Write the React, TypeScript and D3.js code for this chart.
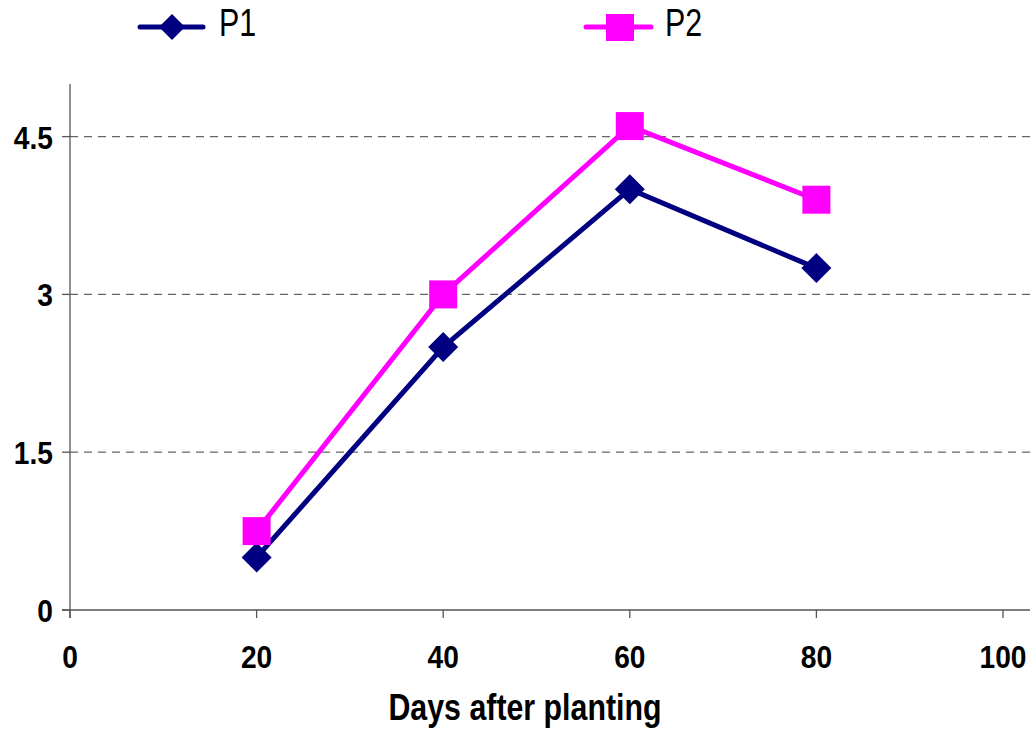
import React from "react";
import * as d3 from "d3";

const days = [20, 40, 60, 80];
const p1Values = [0.5, 2.5, 4.0, 3.25];
const p2Values = [0.75, 3.0, 4.6, 3.9];
const yTicks = [0, 1.5, 3, 4.5];
const xTicks = [0, 20, 40, 60, 80, 100];
const seriesNames = ["P1", "P2"];
const xTitle = "Days after planting";

const W = 1035;
const H = 755;
const FONT = "'Liberation Sans', Arial, sans-serif";
const NAVY = "#000080";
const MAGENTA = "#FF00FF";

// Horizontally condensed text, anchored at (x, y)
function CText(props: {
  x: number;
  y: number;
  sx: number;
  size: number;
  anchor?: "start" | "middle" | "end";
  bold?: boolean;
  children: React.ReactNode;
}) {
  const { x, y, sx, size, anchor = "start", bold, children } = props;
  return (
    <text
      transform={`translate(${x},${y}) scale(${sx},1)`}
      textAnchor={anchor}
      fontSize={size}
      fontWeight={bold ? "bold" : "normal"}
    >
      {children}
    </text>
  );
}

export default function App() {
  const x = d3.scaleLinear().domain([0, 100]).range([70, 1003]);
  const y = d3.scaleLinear().domain([0, 5]).range([610, 84]);
  const line = d3
    .line<number>()
    .x((_, i) => x(days[i]))
    .y((v) => y(v));

  const diamond = (cx: number, cy: number, r: number) =>
    `M${cx},${cy - r}L${cx + r},${cy}L${cx},${cy + r}L${cx - r},${cy}Z`;

  return (
    <svg
      width={W}
      height={H}
      style={{ position: "absolute", left: 0, top: 0, background: "#fff" }}
      fontFamily={FONT}
    >
      {/* horizontal dashed gridlines */}
      {yTicks
        .filter((t) => t > 0)
        .map((t) => (
          <line
            key={"g" + t}
            x1={x(0)}
            x2={1030}
            y1={y(t)}
            y2={y(t)}
            stroke="#666"
            strokeWidth={1.2}
            strokeDasharray="8,6"
          />
        ))}

      {/* axes */}
      <line x1={x(0)} x2={x(0)} y1={y(5)} y2={y(0) + 8} stroke="#555" strokeWidth={1.3} />
      <line x1={x(0) - 8} x2={1030} y1={y(0)} y2={y(0)} stroke="#555" strokeWidth={1.3} />
      {yTicks.map((t) => (
        <g key={"y" + t}>
          <line x1={x(0) - 8} x2={x(0)} y1={y(t)} y2={y(t)} stroke="#555" strokeWidth={1.3} />
          <CText x={53} y={y(t) + 12} sx={0.88} size={32} anchor="end" bold>
            {String(t)}
          </CText>
        </g>
      ))}
      {xTicks.map((t) => (
        <g key={"x" + t}>
          <line x1={x(t)} x2={x(t)} y1={y(0)} y2={y(0) + 8} stroke="#555" strokeWidth={1.3} />
          <CText x={x(t)} y={668} sx={0.88} size={32} anchor="middle" bold>
            {String(t)}
          </CText>
        </g>
      ))}
      <CText x={525} y={720} sx={0.82} size={37} anchor="middle" bold>
        {xTitle}
      </CText>

      {/* series lines */}
      <path d={line(p1Values) ?? ""} fill="none" stroke={NAVY} strokeWidth={5} />
      <path d={line(p2Values) ?? ""} fill="none" stroke={MAGENTA} strokeWidth={5} />

      {/* markers */}
      {p1Values.map((v, i) => (
        <path key={"m1" + i} d={diamond(x(days[i]), y(v), 15)} fill={NAVY} />
      ))}
      {p2Values.map((v, i) => (
        <rect
          key={"m2" + i}
          x={x(days[i]) - 14}
          y={y(v) - 14}
          width={28}
          height={28}
          fill={MAGENTA}
        />
      ))}

      {/* legend */}
      <g>
        <line x1={140} x2={203} y1={27} y2={27} stroke={NAVY} strokeWidth={5} strokeLinecap="round" />
        <path d={diamond(172, 27, 13)} fill={NAVY} />
        <CText x={219} y={36} sx={0.8} size={38}>
          {seriesNames[0]}
        </CText>
        <line x1={586} x2={651} y1={27} y2={27} stroke={MAGENTA} strokeWidth={5} strokeLinecap="round" />
        <rect x={606} y={14} width={28} height={27} fill={MAGENTA} />
        <CText x={665} y={36} sx={0.8} size={38}>
          {seriesNames[1]}
        </CText>
      </g>
    </svg>
  );
}
